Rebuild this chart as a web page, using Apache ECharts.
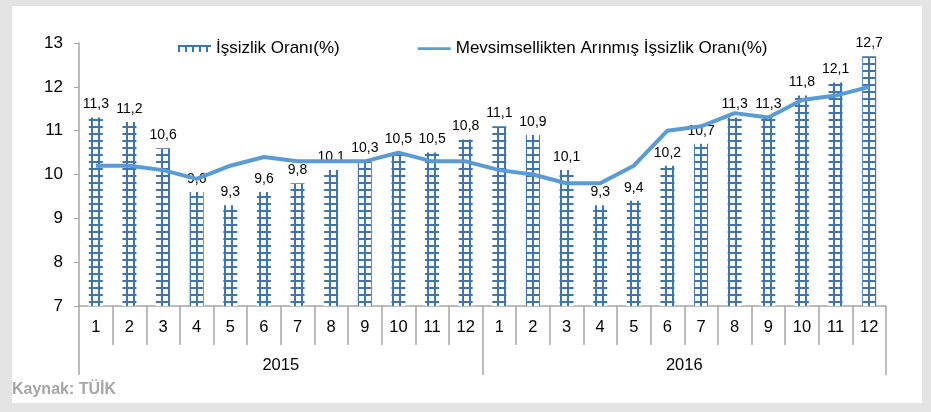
<!DOCTYPE html>
<html>
<head>
<meta charset="utf-8">
<script src="https://cdn.jsdelivr.net/npm/echarts@6/dist/echarts.min.js"></script>
<style>
  html, body { margin: 0; padding: 0; background: #e4e4e4; }
  #panel { position: absolute; left: 12px; top: 6px; width: 910px; height: 397px; background: #fff; }
  #chart { position: absolute; left: 0; top: 0; width: 931px; height: 412px; }
  #src { position: absolute; left: 12px; top: 380px; font-family: "Liberation Sans Narrow", "Liberation Sans", sans-serif;
         font-weight: bold; font-size: 16px; color: #a5a5a5; }
</style>
</head>
<body>
<div id="panel"></div>
<div id="chart"></div>
<div id="src">Kaynak: TÜİK</div>
<script>
var months = ['1','2','3','4','5','6','7','8','9','10','11','12','1','2','3','4','5','6','7','8','9','10','11','12'];
var years = ['2015', '2016'];
var issizlik = [11.3, 11.2, 10.6, 9.6, 9.3, 9.6, 9.8, 10.1, 10.3, 10.5, 10.5, 10.8,
                11.1, 10.9, 10.1, 9.3, 9.4, 10.2, 10.7, 11.3, 11.3, 11.8, 12.1, 12.7];
var mevsim = [10.2, 10.2, 10.1, 9.9, 10.2, 10.4, 10.3, 10.3, 10.3, 10.5, 10.3, 10.3,
              10.1, 10.0, 9.8, 9.8, 10.2, 11.0, 11.1, 11.4, 11.3, 11.7, 11.8, 12.0];

// kareli desen (Excel dolgu deseni gibi)
var pat = document.createElement('canvas');
pat.width = 7; pat.height = 7;
var ctx = pat.getContext('2d');
ctx.fillStyle = '#ffffff';
ctx.fillRect(0, 0, 7, 7);
ctx.fillStyle = '#4274ac';
ctx.fillRect(0, 0, 2, 7);
ctx.fillRect(0, 0, 7, 2);

var myChart = echarts.init(document.getElementById('chart'));
var font = 'Liberation Sans';

var option = {
    animation: false,
    textStyle: { fontFamily: font },
    legend: {
        top: 35,
        left: 173,
        itemGap: 78,
        itemWidth: 33,
        itemHeight: 7,
        textStyle: { fontSize: 17, color: '#000', fontFamily: font },
        data: [
            { name: 'İşsizlik Oranı(%)', icon: 'rect', itemStyle: { color: { image: pat, repeat: 'repeat' } } },
            { name: 'Mevsimsellikten Arınmış İşsizlik Oranı(%)', icon: 'path://M0 0H36V3H0Z', itemStyle: { color: '#5b9bd5' } }
        ]
    },
    grid: { left: 79, right: 45, top: 43, bottom: 106 },
    xAxis: [
        {
            type: 'category',
            data: months,
            axisLine: { lineStyle: { color: '#a6a6a6', width: 1.5 } },
            axisTick: { show: true, length: 39, interval: 0, lineStyle: { color: '#a6a6a6', width: 1.5 } },
            axisLabel: { interval: 0, fontSize: 16.5, color: '#000', margin: 13 }
        },
        {
            type: 'category',
            data: years,
            position: 'bottom',
            axisLine: { show: false },
            axisTick: { show: true, length: 69, interval: 0, lineStyle: { color: '#a6a6a6', width: 1.5 } },
            axisLabel: { fontSize: 16.5, color: '#000', margin: 51 }
        }
    ],
    yAxis: {
        type: 'value',
        min: 7,
        max: 13,
        interval: 1,
        splitLine: { show: false },
        axisLine: { show: true, lineStyle: { color: '#a6a6a6', width: 1.5 } },
        axisTick: { show: true, length: 5, lineStyle: { color: '#a6a6a6' } },
        axisLabel: { fontSize: 17, color: '#000', margin: 16 }
    },
    series: [
        {
            name: 'İşsizlik Oranı(%)',
            type: 'bar',
            barWidth: 14,
            data: issizlik,
            itemStyle: { color: { image: pat, repeat: 'repeat' } },
            label: {
                show: true,
                position: 'top',
                distance: 6,
                fontSize: 14,
                color: '#000',
                formatter: function (p) { return String(p.value).replace('.', ','); }
            }
        },
        {
            name: 'Mevsimsellikten Arınmış İşsizlik Oranı(%)',
            type: 'line',
            data: mevsim,
            symbol: 'none',
            lineStyle: { color: '#5b9bd5', width: 4 },
            itemStyle: { color: '#5b9bd5' }
        }
    ]
};

myChart.setOption(option);
</script>
</body>
</html>
